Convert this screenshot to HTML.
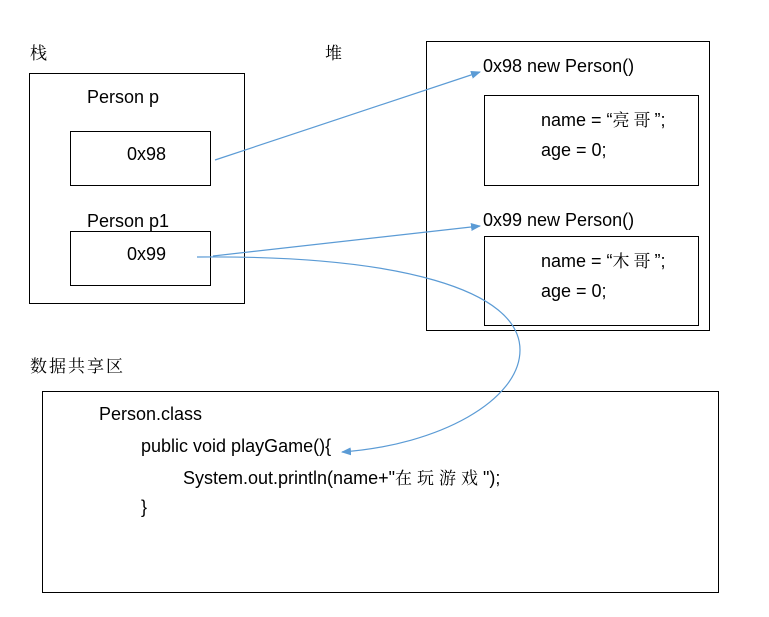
<!DOCTYPE html>
<html><head><meta charset="utf-8"><style>
body{margin:0;width:769px;height:617px;background:#fff;position:relative;overflow:hidden;font-family:"Liberation Sans","Noto Serif CJK SC",serif;color:#000}
.b{position:absolute;border:1px solid #000;box-sizing:border-box}
.t{position:absolute;font-size:18px;white-space:nowrap;line-height:20px;font-family:"Liberation Sans","Noto Serif CJK SC",sans-serif}
.c{font-family:"Noto Serif CJK SC",serif;font-size:17px;letter-spacing:4px}
</style></head><body>
<div class="t c" style="left:30px;top:42px">栈</div>
<div class="t c" style="left:325px;top:42px">堆</div>
<div class="b" style="left:29px;top:73px;width:216px;height:231px"></div>
<div class="t" style="left:87px;top:87px">Person p</div>
<div class="b" style="left:70px;top:131px;width:141px;height:55px"></div>
<div class="t" style="left:127px;top:144px">0x98</div>
<div class="t" style="left:87px;top:211px">Person p1</div>
<div class="b" style="left:70px;top:231px;width:141px;height:55px"></div>
<div class="t" style="left:127px;top:244px">0x99</div>
<div class="b" style="left:426px;top:41px;width:284px;height:290px"></div>
<div class="t" style="left:483px;top:56px">0x98 new Person()</div>
<div class="b" style="left:484px;top:95px;width:215px;height:91px"></div>
<div class="t" style="left:541px;top:109px">name = “<span class="c">亮哥</span>”;</div>
<div class="t" style="left:541px;top:140px">age = 0;</div>
<div class="t" style="left:483px;top:210px">0x99 new Person()</div>
<div class="b" style="left:484px;top:236px;width:215px;height:90px"></div>
<div class="t" style="left:541px;top:250px">name = “<span class="c">木哥</span>”;</div>
<div class="t" style="left:541px;top:281px">age = 0;</div>
<div class="t c" style="left:30px;top:355px;letter-spacing:2px">数据共享区</div>
<div class="b" style="left:42px;top:391px;width:677px;height:202px"></div>
<div class="t" style="left:99px;top:404px">Person.class</div>
<div class="t" style="left:141px;top:436px">public void playGame(){</div>
<div class="t" style="left:183px;top:467px">System.out.println(name+"<span class="c" style="letter-spacing:5px">在玩游戏</span>");</div>
<div class="t" style="left:141px;top:497px">}</div>
<svg width="769" height="617" style="position:absolute;left:0;top:0">
<defs><marker id="a" markerWidth="10" markerHeight="8" refX="9" refY="4" orient="auto" markerUnits="userSpaceOnUse"><path d="M0,0L10,4L0,8z" fill="#5b9bd5"/></marker></defs>
<g stroke="#5b9bd5" stroke-width="1.2" fill="none">
<line x1="215" y1="160" x2="480" y2="72" marker-end="url(#a)"/>
<line x1="213" y1="256" x2="480" y2="226" marker-end="url(#a)"/>
<path d="M197,257 C400,255 520,290 520,350 C520,400 440,445 342,452" marker-end="url(#a)"/>
</g></svg>
</body></html>
